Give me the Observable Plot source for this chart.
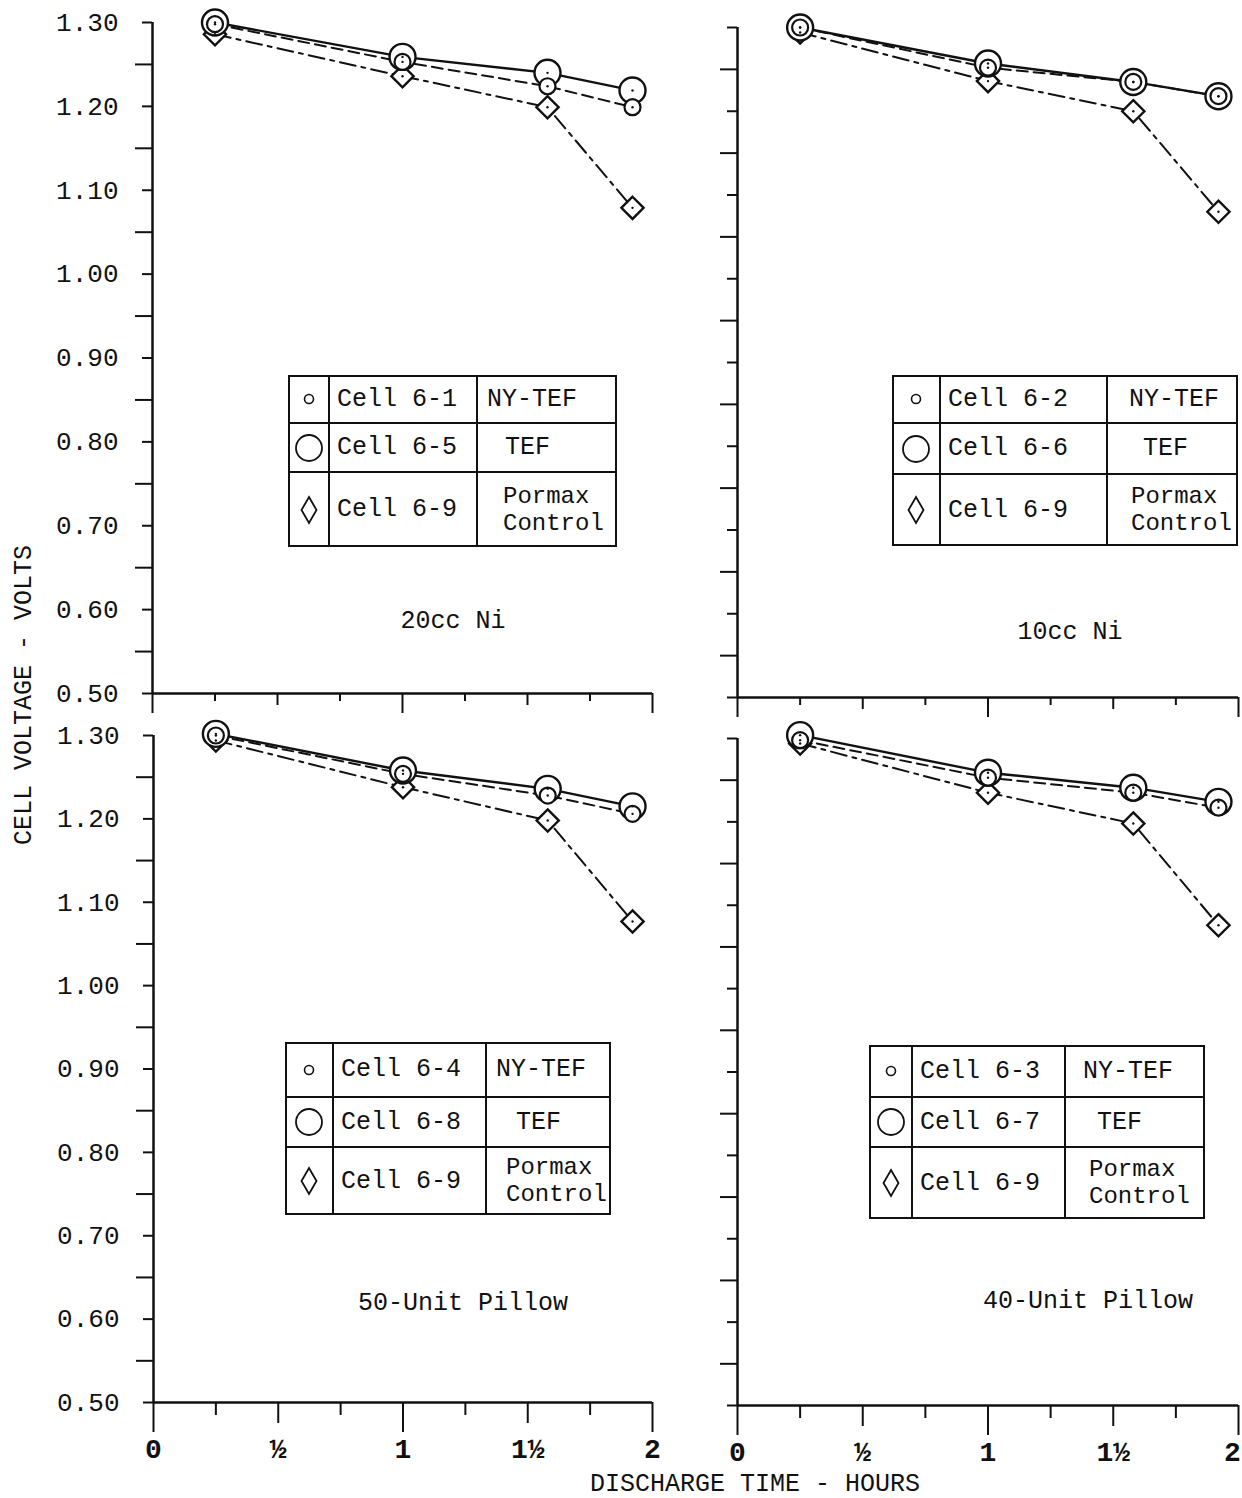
<!DOCTYPE html>
<html><head><meta charset="utf-8">
<script src="https://cdn.jsdelivr.net/npm/d3@7"></script>
<script src="https://cdn.jsdelivr.net/npm/@observablehq/plot@0.6"></script>
<style>
body{margin:0;background:#fff;}
#page{position:relative;width:1242px;height:1498px;overflow:hidden;font-family:"Liberation Mono","DejaVu Sans Mono",monospace;color:#111;background:#fff;}
.abs{position:absolute;}
.cell{position:absolute;display:flex;align-items:center;box-sizing:border-box;font-size:25px;white-space:pre;line-height:27px;}
.rule{position:absolute;background:#111;}
</style></head><body><div id="page"></div>
<script>
// ---- data ----
const hours = [0.25, 1.0, 1.58, 1.92];
const panelNames = ["20cc Ni", "10cc Ni", "50-Unit Pillow", "40-Unit Pillow"];
const seriesNames = ["NY-TEF", "TEF", "Pormax Control"];

const nyTef20cc   = [1.298, 1.253, 1.224, 1.199];
const tef20cc     = [1.300, 1.259, 1.240, 1.219];
const pormax20cc  = [1.286, 1.236, 1.199, 1.079];

const nyTef10cc   = [1.300, 1.252, 1.235, 1.218];
const tef10cc     = [1.300, 1.257, 1.235, 1.218];
const pormax10cc  = [1.294, 1.236, 1.200, 1.080];

const nyTef50     = [1.300, 1.254, 1.228, 1.206];
const tef50       = [1.302, 1.258, 1.236, 1.215];
const pormax50    = [1.294, 1.238, 1.198, 1.077];

const nyTef40     = [1.298, 1.253, 1.235, 1.217];
const tef40       = [1.304, 1.259, 1.241, 1.224];
const pormax40    = [1.294, 1.235, 1.198, 1.076];

const cells20cc = ["Cell 6-1", "Cell 6-5", "Cell 6-9"];
const cells10cc = ["Cell 6-2", "Cell 6-6", "Cell 6-9"];
const cells50   = ["Cell 6-4", "Cell 6-8", "Cell 6-9"];
const cells40   = ["Cell 6-3", "Cell 6-7", "Cell 6-9"];

const yMajorTicks = [0.5, 0.6, 0.7, 0.8, 0.9, 1.0, 1.1, 1.2, 1.3];
const yMinorTicks = [0.55, 0.65, 0.75, 0.85, 0.95, 1.05, 1.15, 1.25];
const xQuarterTicks = [0.25, 0.75, 1.25, 1.75];
const xHalfTicks = [0.5, 1.5];
const xWholeTicks = [0, 1, 2];
const xTickValues = [0, 0.5, 1, 1.5, 2];
const xTickLabels = ["0", "½", "1", "1½", "2"];

const yTitle = "CELL VOLTAGE - VOLTS";
const xTitle = "DISCHARGE TIME - HOURS";

// ---- layout ----
const FONT = '"Liberation Mono","DejaVu Sans Mono",monospace';
const page = document.getElementById("page");
const panels = [
  {name: panelNames[0], ny: nyTef20cc, tef: tef20cc, pm: pormax20cc, cells: cells20cc,
   x0: 152, x1: 652, yT: 22, yB: 693, left: true, bottom: false,
   lg: {xs: [288, 329, 477, 617], ys: [375, 423, 472, 547]}, pads: [10, 28, 26], lab: [453, 622]},
  {name: panelNames[1], ny: nyTef10cc, tef: tef10cc, pm: pormax10cc, cells: cells10cc,
   x0: 737, x1: 1238, yT: 27, yB: 697, left: false, bottom: false,
   lg: {xs: [892, 940, 1107, 1238], ys: [375, 423, 474, 546]}, pads: [22, 36, 24], lab: [1070, 633]},
  {name: panelNames[2], ny: nyTef50, tef: tef50, pm: pormax50, cells: cells50,
   x0: 153, x1: 652, yT: 735, yB: 1402, left: true, bottom: true,
   lg: {xs: [285, 333, 486, 611], ys: [1042, 1097, 1147, 1215]}, pads: [10, 30, 20], lab: [463, 1304]},
  {name: panelNames[3], ny: nyTef40, tef: tef40, pm: pormax40, cells: cells40,
   x0: 737, x1: 1238, yT: 738, yB: 1405, left: false, bottom: true,
   lg: {xs: [869, 912, 1065, 1205], ys: [1045, 1097, 1147, 1219]}, pads: [18, 32, 24], lab: [1088, 1302]}
];

const blank = () => "";
const tickLabel = d => xTickLabels[xTickValues.indexOf(d)];

for (const p of panels) {
  const svgLeft = p.left ? 0 : 690;
  const mL = p.x0 - svgLeft, mR = 20, mT = 22, mB = p.bottom ? 80 : 40;
  const width = mL + (p.x1 - p.x0) + mR;
  const height = mT + (p.yB - p.yT) + mB;
  const rows = (arr, s) => hours.map((h, i) => ({h, v: arr[i], s}));
  const ny = rows(p.ny, "NY-TEF"), tef = rows(p.tef, "TEF"), pm = rows(p.pm, "Pormax Control");
  const all = [...ny, ...tef, ...pm];
  const labelMarks = [];
  if (p.bottom) {
    if (p.left) {
      labelMarks.push(Plot.axisX({ticks: xTickValues, tickSize: 0, tickPadding: 36, label: null,
        tickFormat: tickLabel, fontSize: 28, fontWeight: "bold"}));
    } else {
      labelMarks.push(Plot.axisX({ticks: xTickValues.slice(0, 4), tickSize: 0, tickPadding: 36, label: null,
        tickFormat: tickLabel, fontSize: 28, fontWeight: "bold"}));
      labelMarks.push(Plot.axisX({ticks: xTickValues.slice(4), tickSize: 0, tickPadding: 36, label: null,
        tickFormat: tickLabel, fontSize: 28, fontWeight: "bold", dx: -6}));
    }
  }
  const chart = Plot.plot({
    width, height, marginLeft: mL, marginRight: mR, marginTop: mT, marginBottom: mB,
    x: {domain: [0, 2]},
    y: {domain: [0.5, 1.3]},
    style: {fontFamily: FONT, fontSize: "26px", color: "#111", background: "transparent", overflow: "visible"},
    marks: [
      Plot.axisY({ticks: yMajorTicks, tickSize: 10, tickPadding: 24, strokeWidth: 2, label: null,
        tickFormat: p.left ? (d => d.toFixed(2)) : blank, fontSize: 26}),
      Plot.axisY({ticks: yMinorTicks, tickSize: 17, strokeWidth: 2, tickFormat: blank, label: null}),
      Plot.axisX({ticks: xQuarterTicks, tickSize: p.bottom ? 13 : 8, strokeWidth: 2, tickFormat: blank, label: null}),
      Plot.axisX({ticks: xHalfTicks, tickSize: p.bottom ? 21 : 12, strokeWidth: 2, tickFormat: blank, label: null}),
      Plot.axisX({ticks: xWholeTicks, tickSize: p.bottom ? 30 : 20, strokeWidth: 2, tickFormat: blank, label: null}),
      ...labelMarks,
      Plot.ruleX([0], {strokeWidth: 2.5}),
      Plot.ruleY([0.5], {strokeWidth: 2.5}),
      Plot.line(pm, {x: "h", y: "v", stroke: "#111", strokeWidth: 2, strokeDasharray: "16,6,4,6"}),
      Plot.line(ny, {x: "h", y: "v", stroke: "#111", strokeWidth: 2, strokeDasharray: "11,6"}),
      Plot.line(tef, {x: "h", y: "v", stroke: "#111", strokeWidth: 2.4}),
      Plot.dot(pm, {x: "h", y: "v", symbol: "diamond2", r: 10, fill: "white", stroke: "#111", strokeWidth: 2.4}),
      Plot.dot(tef, {x: "h", y: "v", symbol: "circle", r: 13, fill: "white", stroke: "#111", strokeWidth: 2.4}),
      Plot.dot(ny, {x: "h", y: "v", symbol: "circle", r: 8, fill: "white", stroke: "#111", strokeWidth: 2.2}),
      Plot.dot(all, {x: "h", y: "v", r: 1.2, fill: "#111"})
    ]
  });
  chart.style.position = "absolute";
  chart.style.left = svgLeft + "px";
  chart.style.top = (p.yT - mT) + "px";
  page.appendChild(chart);

  // panel label
  const lab = document.createElement("div");
  lab.className = "abs";
  Object.assign(lab.style, {left: (p.lab[0] - 150) + "px", top: (p.lab[1] - 15) + "px", width: "300px",
    height: "30px", lineHeight: "30px", textAlign: "center", fontSize: "25px"});
  lab.textContent = p.name;
  page.appendChild(lab);

  // legend table
  const [xa, xb, xc, xd] = p.lg.xs, [ya, yb, yc, yd] = p.lg.ys;
  const box = document.createElement("div");
  box.className = "abs";
  Object.assign(box.style, {left: xa + "px", top: ya + "px", width: (xd - xa) + "px", height: (yd - ya) + "px",
    border: "2px solid #111", boxSizing: "border-box"});
  page.appendChild(box);
  const addRule = (l, t, w, h) => {
    const r = document.createElement("div");
    r.className = "rule";
    Object.assign(r.style, {left: l + "px", top: t + "px", width: w + "px", height: h + "px"});
    page.appendChild(r);
  };
  addRule(xb - 1, ya, 2, yd - ya);
  addRule(xc - 1, ya, 2, yd - ya);
  addRule(xa, yb - 1, xd - xa, 2);
  addRule(xa, yc - 1, xd - xa, 2);
  const rowsY = [[ya, yb], [yb, yc], [yc, yd]];
  const symbols = [
    '<svg width="30" height="30" viewBox="-15 -15 30 30"><circle r="4.5" fill="none" stroke="#111" stroke-width="1.6"/></svg>',
    '<svg width="32" height="32" viewBox="-16 -16 32 32"><circle r="13" fill="none" stroke="#111" stroke-width="1.8"/></svg>',
    '<svg width="20" height="32" viewBox="-10 -16 20 32"><path d="M0,-13L7.5,0L0,13L-7.5,0Z" fill="none" stroke="#111" stroke-width="1.8"/></svg>'
  ];
  rowsY.forEach(([t, b], i) => {
    const c1 = document.createElement("div");
    c1.className = "cell";
    Object.assign(c1.style, {left: xa + "px", top: t + "px", width: (xb - xa) + "px", height: (b - t) + "px", justifyContent: "center"});
    c1.innerHTML = symbols[i];
    page.appendChild(c1);
    const c2 = document.createElement("div");
    c2.className = "cell";
    Object.assign(c2.style, {left: xb + "px", top: t + "px", width: (xc - xb) + "px", height: (b - t) + "px", paddingLeft: "8px"});
    c2.textContent = p.cells[i];
    page.appendChild(c2);
    const c3 = document.createElement("div");
    c3.className = "cell";
    Object.assign(c3.style, {left: xc + "px", top: t + "px", width: (xd - xc) + "px", height: (b - t) + "px",
      paddingLeft: p.pads[i] + "px", fontSize: i === 2 ? "24px" : "25px"});
    c3.textContent = seriesNames[i] === "Pormax Control" ? "Pormax\nControl" : seriesNames[i];
    page.appendChild(c3);
  });
}

// axis titles
const yt = document.createElement("div");
yt.className = "abs";
Object.assign(yt.style, {left: (25 - 250) + "px", top: (695 - 15) + "px", width: "500px", height: "30px", lineHeight: "30px",
  textAlign: "center", fontSize: "25px", transform: "rotate(-90deg)"});
yt.textContent = yTitle;
page.appendChild(yt);
const xt = document.createElement("div");
xt.className = "abs";
Object.assign(xt.style, {left: (755 - 250) + "px", top: (1485 - 15) + "px", width: "500px", height: "30px", lineHeight: "30px",
  textAlign: "center", fontSize: "25px"});
xt.textContent = xTitle;
page.appendChild(xt);
</script></body></html>
